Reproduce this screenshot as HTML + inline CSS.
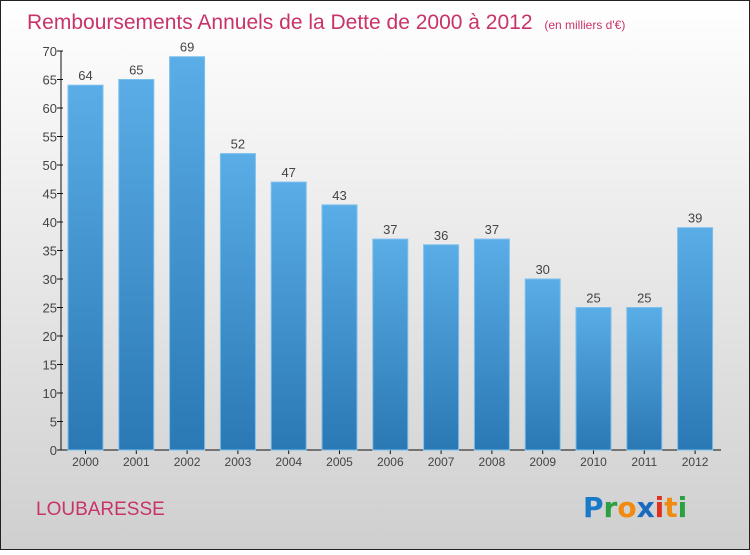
<!DOCTYPE html>
<html><head><meta charset="utf-8"><style>
body{margin:0;width:750px;height:550px;overflow:hidden;font-family:"Liberation Sans",sans-serif}
</style></head><body>
<svg id="chart" width="750" height="550" xmlns="http://www.w3.org/2000/svg">
<defs>
<linearGradient id="bg" x1="0" y1="0" x2="0" y2="1"><stop offset="0" stop-color="#ffffff"/><stop offset="1" stop-color="#cfcfcf"/></linearGradient>
<linearGradient id="bar" x1="0" y1="0" x2="0" y2="1"><stop offset="0" stop-color="#5aade6"/><stop offset="1" stop-color="#2a78b4"/></linearGradient>
</defs>
<rect x="0.5" y="0.5" width="749" height="549" fill="url(#bg)" stroke="#222"/>
<text x="27" y="29" font-size="21" fill="#c8336a">Remboursements Annuels de la Dette de 2000 à 2012 <tspan font-size="12" dx="6">(en milliers d'€)</tspan></text>
<text x="36" y="515" font-size="19" fill="#c8336a">LOUBARESSE</text>
<g font-size="28" font-weight="bold" font-family="'DejaVu Sans',sans-serif">
<text x="583" y="517"><tspan fill="#1a7ac8">P</tspan><tspan fill="#2aa040">r</tspan><tspan fill="#f08a10">o</tspan><tspan fill="#1a6ac0">x</tspan><tspan fill="#e03020">i</tspan><tspan fill="#f08a10">t</tspan><tspan fill="#2aa040">i</tspan></text>
</g>
<g id="axes"></g><g id="bars"></g>
</svg>
<script>
const categories=["2000","2001","2002","2003","2004","2005","2006","2007","2008","2009","2010","2011","2012"];
const values=[64,65,69,52,47,43,37,36,37,30,25,25,39];
const yTicks=[0,5,10,15,20,25,30,35,40,45,50,55,60,65,70];
const NS="http://www.w3.org/2000/svg";
const x0=61,x1=721,y0=450,yTop=51,yMax=70;
const step=50.8,bw=35,firstC=85.5;
const y=v=>y0-(v/yMax)*(y0-yTop);
const xc=i=>firstC+i*step;
function mk(t,a,p){const e=document.createElementNS(NS,t);for(const k in a)e.setAttribute(k,a[k]);p.appendChild(e);return e;}
const ax=document.getElementById('axes'),bars=document.getElementById('bars');
const yl=mk('line',{x1:x0,y1:yTop,x2:x0,y2:y0,stroke:'#111'},ax);


const xl=mk('line',{x1:x0,y1:y0,x2:x1,y2:y0,stroke:'#111'},ax);


yTicks.forEach(v=>{
 const t=mk('line',{x1:x0-4,x2:x0+2,y1:y(v),y2:y(v),stroke:'#111'},ax);
 
 
 const l=mk('text',{x:x0-4,y:y(v)+5,'text-anchor':'end','font-size':13,fill:'#444'},ax);
 
 
 l.textContent=v;
});
categories.forEach((c,i)=>{
 const t=mk('line',{x1:xc(i),x2:xc(i),y1:y0,y2:y0+4,stroke:'#111'},ax);
 
 
 const l=mk('text',{x:xc(i),y:y0+16,'text-anchor':'middle','font-size':12,fill:'#444'},ax);
 
 
 l.textContent=c;
 const v=values[i];
 const r=mk('rect',{x:xc(i)-bw/2,y:y(v),width:bw,height:y0-y(v),fill:'url(#bar)',stroke:'#7cc0ee','stroke-width':1},bars);
 
 
 const vl=mk('text',{x:xc(i),y:y(v)-5,'text-anchor':'middle','font-size':13,fill:'#444'},bars);
 
 
 vl.textContent=v;
});
</script>
</body></html>
